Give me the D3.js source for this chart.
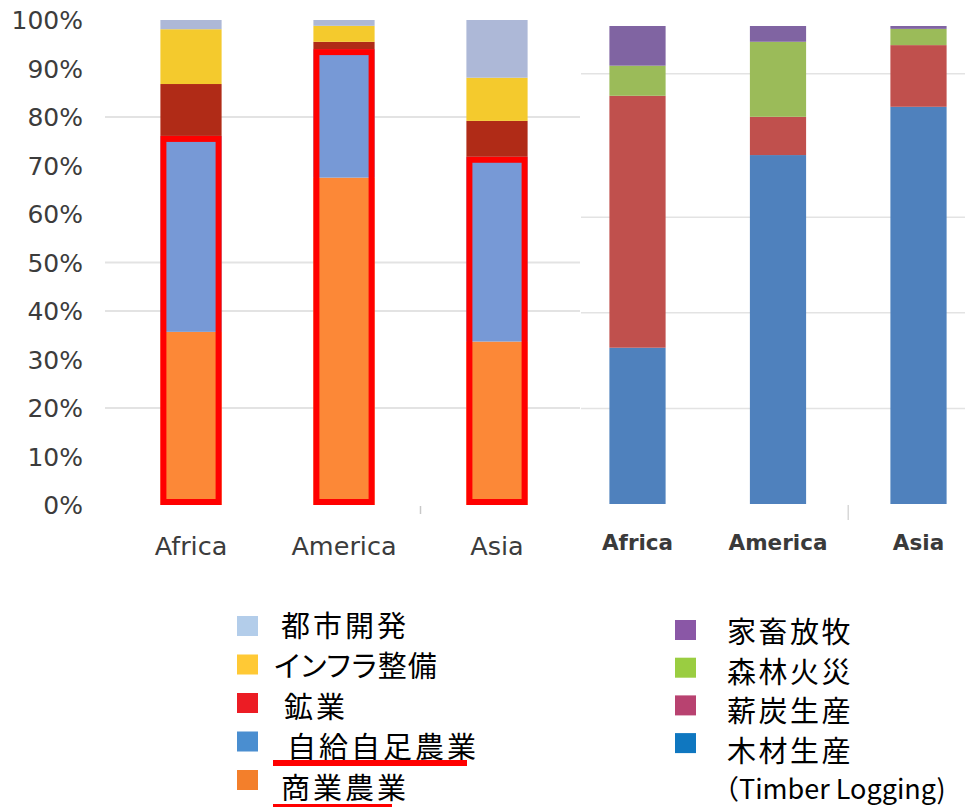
<!DOCTYPE html>
<html>
<head>
<meta charset="utf-8">
<script src="https://cdn.jsdelivr.net/npm/d3@7"></script>
<style>
html,body{margin:0;padding:0;background:#fff;}
svg{display:block;}
</style>
</head>
<body>
<svg id="chart" width="965" height="807"></svg>
<script>
// ---- Data ----
const categories = ["Africa", "America", "Asia"];

// Left chart (stack order bottom -> top)
const leftKeys = ["商業農業", "自給自足農業", "鉱業", "インフラ整備", "都市開発"];
const commercialAgri = [35.7, 67.5, 33.7];
const subsistenceAgri = [40.4, 26.5, 38.1];
const mining = [10.7, 1.5, 7.4];
const infrastructure = [11.3, 3.3, 8.9];
const urbanDev = [1.9, 1.2, 11.9];

// Right chart (stack order bottom -> top)
const rightKeys = ["木材生産", "薪炭生産", "森林火災", "家畜放牧"];
const timberLogging = [32.7, 73.0, 83.1];
const fuelwood = [52.7, 8.0, 12.9];
const forestFire = [6.3, 15.7, 3.4];
const livestock = [8.3, 3.3, 0.6];

const yTickValues = [0, 10, 20, 30, 40, 50, 60, 70, 80, 90, 100];
const leftGridValues = [20, 40, 50, 80];
const rightGridValues = [20, 40, 60, 90];

// Legend entries (top -> bottom)
const leftLegendLabels = ["都市開発", "インフラ整備", "鉱業", "自給自足農業", "商業農業"];
const rightLegendLabels = ["家畜放牧", "森林火災", "薪炭生産", "木材生産"];
const rightLegendNote = "（Timber Logging)";

// ---- Styles ----
const leftBarColors = {"商業農業": "#fc8837", "自給自足農業": "#7799d6", "鉱業": "#b02b17", "インフラ整備": "#f4ca2d", "都市開発": "#adb8d7"};
const rightBarColors = {"木材生産": "#4f81bd", "薪炭生産": "#c0504d", "森林火災": "#9bbb59", "家畜放牧": "#8064a2"};
const leftLegendColors = ["#b3cdea", "#ffc935", "#ec1c24", "#4a8ed0", "#f37f2b"];
const rightLegendColors = ["#8a57a6", "#9acd41", "#b84270", "#0f77c0"];

const svg = d3.select("#chart");

function rows(keys, arrays) {
  return categories.map((c, i) => {
    const o = {cat: c};
    keys.forEach((k, j) => o[k] = arrays[j][i]);
    return o;
  });
}

// ---- Left chart ----
const xL = d3.scaleBand().domain(categories).range([114.5, 573.5]).paddingInner(0.6).paddingOuter(0.3);
const yL = d3.scaleLinear().domain([0, 100]).range([505, 20]);

const gL = svg.append("g");
gL.selectAll("line.grid").data(leftGridValues).join("line")
  .attr("x1", 105).attr("x2", 580)
  .attr("y1", d => yL(d)).attr("y2", d => yL(d))
  .attr("stroke", "#e3e3e3").attr("stroke-width", 2);

const leftData = rows(leftKeys, [commercialAgri, subsistenceAgri, mining, infrastructure, urbanDev]);
const leftStack = d3.stack().keys(leftKeys)(leftData);
gL.selectAll("g.layer").data(leftStack).join("g")
  .attr("fill", d => leftBarColors[d.key])
  .selectAll("rect").data(d => d).join("rect")
  .attr("x", d => xL(d.data.cat))
  .attr("width", xL.bandwidth())
  .attr("y", d => yL(d[1]))
  .attr("height", d => yL(d[0]) - yL(d[1]));

// Red highlight boxes around agriculture (commercial + subsistence)
const sw = 6;
gL.selectAll("rect.hl").data(categories).join("rect")
  .attr("x", d => xL(d) + sw / 2)
  .attr("width", xL.bandwidth() - sw)
  .attr("y", (d, i) => yL(commercialAgri[i] + subsistenceAgri[i]) + sw / 2)
  .attr("height", (d, i) => yL(0) - yL(commercialAgri[i] + subsistenceAgri[i]) - sw)
  .attr("fill", "none").attr("stroke", "#ff0000").attr("stroke-width", sw);

// Y axis labels
gL.selectAll("text.ytick").data(yTickValues).join("text")
  .attr("x", 83).attr("y", d => yL(d)).attr("dy", "0.36em")
  .attr("text-anchor", "end")
  .attr("font-family", "DejaVu Sans").attr("font-size", 25)
  .attr("fill", "#3c3c3c")
  .text(d => d + "%");

// X axis labels
gL.selectAll("text.xtick").data(categories).join("text")
  .attr("x", d => xL(d) + xL.bandwidth() / 2).attr("y", 555)
  .attr("text-anchor", "middle")
  .attr("font-family", "DejaVu Sans").attr("font-size", 25.5)
  .attr("fill", "#3c3c3c")
  .text(d => d);

// small category tick between America and Asia
{
  const xm = (xL("America") + xL.bandwidth() + xL("Asia")) / 2;
  gL.append("line").attr("x1", xm).attr("x2", xm).attr("y1", 506).attr("y2", 514)
    .attr("stroke", "#c8c8c8").attr("stroke-width", 1.5);
}

// ---- Right chart ----
const xR = d3.scaleBand().domain(categories).range([567.25, 988.75]).paddingInner(0.6).paddingOuter(0.3);
const yR = d3.scaleLinear().domain([0, 100]).range([504, 26]);

const gR = svg.append("g");
gR.selectAll("line.grid").data(rightGridValues).join("line")
  .attr("x1", 581).attr("x2", 965)
  .attr("y1", d => yR(d)).attr("y2", d => yR(d))
  .attr("stroke", "#e3e3e3").attr("stroke-width", 1.5);

const rightData = rows(rightKeys, [timberLogging, fuelwood, forestFire, livestock]);
const rightStack = d3.stack().keys(rightKeys)(rightData);
gR.selectAll("g.layer").data(rightStack).join("g")
  .attr("fill", d => rightBarColors[d.key])
  .selectAll("rect").data(d => d).join("rect")
  .attr("x", d => xR(d.data.cat))
  .attr("width", xR.bandwidth())
  .attr("y", d => yR(d[1]))
  .attr("height", d => yR(d[0]) - yR(d[1]));

gR.selectAll("text.xtick").data(categories).join("text")
  .attr("x", d => xR(d) + xR.bandwidth() / 2).attr("y", 550)
  .attr("text-anchor", "middle")
  .attr("font-family", "DejaVu Sans").attr("font-weight", "bold").attr("font-size", 21.5)
  .attr("fill", "#3a3a3a")
  .text(d => d);

{
  const xm = (xR("America") + xR.bandwidth() + xR("Asia")) / 2;
  gR.append("line").attr("x1", xm).attr("x2", xm).attr("y1", 505).attr("y2", 520)
    .attr("stroke", "#d8d8d8").attr("stroke-width", 1.5);
}

// ---- Left legend ----
const cjk = "'Noto Sans CJK JP', 'Noto Sans CJK SC', sans-serif";
const gLL = svg.append("g");
const leftTextDx = [0, -7, 3, 6, 0];
const leftSpacing = [3, 1, 3, 3, 3];
leftLegendLabels.forEach((lab, i) => {
  const cy = 626 + i * 38.5;
  gLL.append("rect").attr("x", 237).attr("y", cy - 10).attr("width", 21).attr("height", 20)
    .attr("fill", leftLegendColors[i]);
  gLL.append("text").attr("x", 281 + leftTextDx[i]).attr("y", 623.5 + i * 40.6)
    .attr("dominant-baseline", "central")
    .attr("font-family", cjk).attr("font-size", 29).attr("letter-spacing", leftSpacing[i])
    .style("font-feature-settings", i === 1 ? "'palt'" : "normal")
    .attr("fill", "#000").text(lab);
});
// red underlines
gLL.append("line").attr("x1", 273).attr("x2", 467).attr("y1", 763).attr("y2", 763)
  .attr("stroke", "#ff0000").attr("stroke-width", 6);
gLL.append("line").attr("x1", 273).attr("x2", 392).attr("y1", 806).attr("y2", 806)
  .attr("stroke", "#ff0000").attr("stroke-width", 4);

// ---- Right legend ----
const gRL = svg.append("g");
rightLegendLabels.forEach((lab, i) => {
  const cy = 630 + i * 37.7;
  gRL.append("rect").attr("x", 675).attr("y", cy - 10).attr("width", 21).attr("height", 20)
    .attr("fill", rightLegendColors[i]);
  gRL.append("text").attr("x", 727).attr("y", 630 + i * 39.5)
    .attr("dominant-baseline", "central")
    .attr("font-family", cjk).attr("font-size", 29).attr("letter-spacing", 2.5)
    .attr("fill", "#000").text(lab);
});
gRL.append("text").attr("x", 712).attr("y", 787)
  .attr("dominant-baseline", "central")
  .attr("font-family", cjk).attr("font-size", 27)
  .attr("fill", "#000").text(rightLegendNote);
</script>
</body>
</html>
